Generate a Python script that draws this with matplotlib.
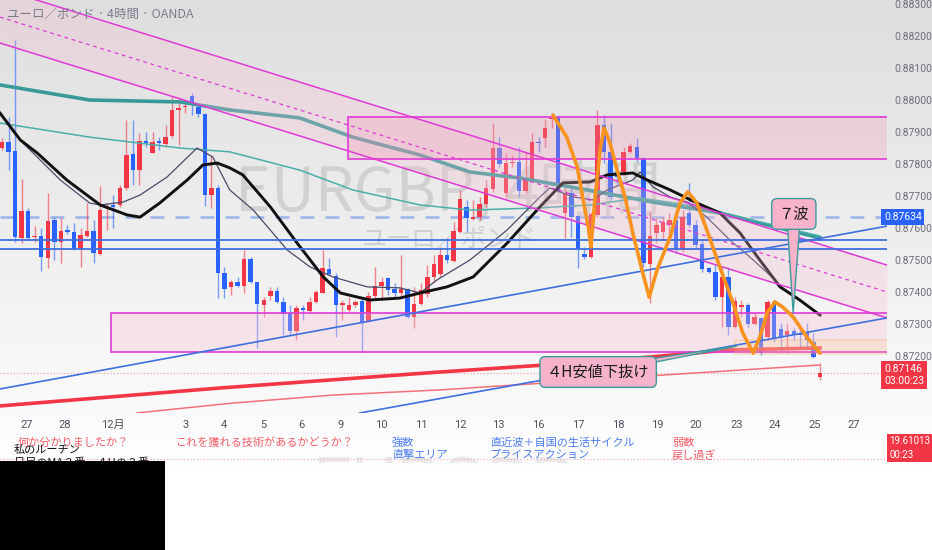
import matplotlib
matplotlib.use("Agg")

import numpy as np
import matplotlib.pyplot as plt
from matplotlib.patches import Rectangle, Polygon

plt.rcParams['font.family'] = ['Roboto', 'Noto Sans CJK JP', 'DejaVu Sans']
JP = ['Noto Sans CJK JP', 'DejaVu Sans']

# --- 4H candles, EUR/GBP ---
opens = [
    0.87850, 0.87869, 0.87841, 0.87569, 0.87653, 0.87572, 0.87575, 0.87506, 0.87625, 0.87556,
    0.87594, 0.87588, 0.87534, 0.87575, 0.87591, 0.87519, 0.87663, 0.87672, 0.87672, 0.87725,
    0.87831, 0.87781, 0.87872, 0.87834, 0.87872, 0.87863, 0.87888, 0.87969, 0.87978, 0.88012,
    0.87978, 0.87956, 0.87703, 0.87725, 0.87459, 0.87416, 0.87431, 0.87419, 0.87503, 0.87431,
    0.87359, 0.87388, 0.87403, 0.87369, 0.87334, 0.87278, 0.87350, 0.87341, 0.87369, 0.87397,
    0.87472, 0.87450, 0.87359, 0.87344, 0.87359, 0.87372, 0.87309, 0.87388, 0.87419, 0.87444,
    0.87409, 0.87397, 0.87409, 0.87322, 0.87363, 0.87394, 0.87447, 0.87456, 0.87516, 0.87497,
    0.87588, 0.87666, 0.87628, 0.87634, 0.87675, 0.87722, 0.87850, 0.87709, 0.87803, 0.87806,
    0.87716, 0.87753, 0.87869, 0.87881, 0.87941, 0.87944, 0.87647, 0.87709, 0.87638, 0.87519,
    0.87509, 0.87641, 0.87922, 0.87838, 0.87775, 0.87775, 0.87838, 0.87853, 0.87819, 0.87488,
    0.87584, 0.87588, 0.87609, 0.87625, 0.87531, 0.87647, 0.87609, 0.87550, 0.87475, 0.87463,
    0.87384, 0.87447, 0.87291, 0.87353, 0.87359, 0.87300, 0.87319, 0.87259, 0.87369, 0.87284,
    0.87266, 0.87278, 0.87272, 0.87272, 0.87244, 0.87134]
highs = [
    0.87881, 0.87947, 0.88188, 0.87753, 0.87663, 0.87606, 0.87600, 0.87709, 0.87634, 0.87631,
    0.87609, 0.87616, 0.87600, 0.87678, 0.87625, 0.87731, 0.87678, 0.87703, 0.87734, 0.87938,
    0.87938, 0.87897, 0.87900, 0.87900, 0.87884, 0.87922, 0.88009, 0.88009, 0.88000, 0.88022,
    0.87984, 0.87959, 0.87828, 0.87734, 0.87478, 0.87438, 0.87447, 0.87531, 0.87509, 0.87431,
    0.87384, 0.87416, 0.87416, 0.87384, 0.87359, 0.87359, 0.87359, 0.87384, 0.87406, 0.87531,
    0.87506, 0.87459, 0.87375, 0.87384, 0.87375, 0.87378, 0.87400, 0.87478, 0.87447, 0.87447,
    0.87428, 0.87516, 0.87413, 0.87416, 0.87428, 0.87484, 0.87516, 0.87541, 0.87569, 0.87619,
    0.87719, 0.87688, 0.87688, 0.87697, 0.87750, 0.87928, 0.87884, 0.87834, 0.87828, 0.87853,
    0.87838, 0.87897, 0.87884, 0.87938, 0.87953, 0.87953, 0.87728, 0.87725, 0.87641, 0.87541,
    0.87650, 0.87969, 0.87953, 0.87928, 0.87797, 0.87853, 0.87866, 0.87881, 0.87822, 0.87650,
    0.87631, 0.87634, 0.87647, 0.87656, 0.87656, 0.87741, 0.87625, 0.87563, 0.87478, 0.87484,
    0.87478, 0.87478, 0.87384, 0.87375, 0.87366, 0.87334, 0.87322, 0.87375, 0.87375, 0.87303,
    0.87303, 0.87288, 0.87291, 0.87303, 0.87272, 0.87178]
lows = [
    0.87844, 0.87781, 0.87556, 0.87553, 0.87563, 0.87556, 0.87466, 0.87475, 0.87500, 0.87491,
    0.87581, 0.87531, 0.87478, 0.87572, 0.87491, 0.87516, 0.87594, 0.87600, 0.87666, 0.87719,
    0.87734, 0.87734, 0.87853, 0.87834, 0.87844, 0.87853, 0.87881, 0.87859, 0.87959, 0.87953,
    0.87947, 0.87669, 0.87663, 0.87381, 0.87381, 0.87391, 0.87416, 0.87397, 0.87428, 0.87225,
    0.87322, 0.87375, 0.87366, 0.87266, 0.87266, 0.87250, 0.87313, 0.87334, 0.87366, 0.87397,
    0.87453, 0.87259, 0.87313, 0.87334, 0.87353, 0.87213, 0.87306, 0.87375, 0.87375, 0.87391,
    0.87384, 0.87384, 0.87319, 0.87288, 0.87359, 0.87384, 0.87431, 0.87447, 0.87491, 0.87494,
    0.87584, 0.87588, 0.87625, 0.87625, 0.87666, 0.87713, 0.87791, 0.87697, 0.87791, 0.87697,
    0.87709, 0.87744, 0.87838, 0.87853, 0.87913, 0.87713, 0.87569, 0.87572, 0.87475, 0.87503,
    0.87506, 0.87634, 0.87803, 0.87688, 0.87734, 0.87766, 0.87834, 0.87806, 0.87478, 0.87366,
    0.87553, 0.87563, 0.87584, 0.87522, 0.87525, 0.87603, 0.87538, 0.87463, 0.87459, 0.87375,
    0.87291, 0.87266, 0.87288, 0.87322, 0.87291, 0.87297, 0.87203, 0.87250, 0.87244, 0.87209,
    0.87209, 0.87250, 0.87228, 0.87228, 0.87194, 0.87125]
closes = [
    0.87869, 0.87838, 0.87572, 0.87653, 0.87569, 0.87575, 0.87509, 0.87622, 0.87556, 0.87591,
    0.87588, 0.87534, 0.87578, 0.87591, 0.87522, 0.87656, 0.87666, 0.87666, 0.87725, 0.87828,
    0.87781, 0.87872, 0.87866, 0.87869, 0.87866, 0.87884, 0.87969, 0.87975, 0.87981, 0.87984,
    0.87956, 0.87703, 0.87725, 0.87459, 0.87409, 0.87431, 0.87419, 0.87503, 0.87431, 0.87363,
    0.87375, 0.87403, 0.87369, 0.87331, 0.87278, 0.87350, 0.87344, 0.87369, 0.87400, 0.87475,
    0.87456, 0.87359, 0.87366, 0.87359, 0.87369, 0.87306, 0.87388, 0.87419, 0.87431, 0.87406,
    0.87397, 0.87409, 0.87322, 0.87363, 0.87406, 0.87447, 0.87488, 0.87516, 0.87500, 0.87591,
    0.87691, 0.87631, 0.87634, 0.87675, 0.87725, 0.87850, 0.87800, 0.87803, 0.87806, 0.87716,
    0.87753, 0.87869, 0.87866, 0.87913, 0.87944, 0.87716, 0.87709, 0.87634, 0.87534, 0.87509,
    0.87644, 0.87922, 0.87838, 0.87697, 0.87759, 0.87838, 0.87856, 0.87819, 0.87491, 0.87575,
    0.87609, 0.87619, 0.87625, 0.87531, 0.87634, 0.87609, 0.87547, 0.87472, 0.87463, 0.87384,
    0.87447, 0.87291, 0.87372, 0.87359, 0.87300, 0.87322, 0.87209, 0.87369, 0.87256, 0.87259,
    0.87278, 0.87266, 0.87266, 0.87250, 0.87197, 0.87146]

day_ticks = [3.7, 9.6, 17.0, 28.0, 33.9, 39.9, 45.8, 51.8, 57.9, 64.0, 70.0,
             75.9, 82.0, 88.0, 94.1, 100.2, 106.0, 112.2, 118.1, 124.2, 130.2]
day_labels = ['27', '28', '12月', '3', '4', '5', '6', '9', '10', '11', '12',
              '13', '16', '17', '18', '19', '20', '23', '24', '25', '27']
price_ticks = [0.872, 0.873, 0.874, 0.875, 0.876, 0.877, 0.878, 0.879, 0.880, 0.881, 0.882, 0.883]

# moving averages
black_ma_x = [-0.3, 2.8, 5.4, 9.9, 15.0, 19.1, 21.1, 24.1, 28.3, 30.7, 32.9, 34.8, 36.8, 41.0,
              45.1, 49.1, 51.7, 56.2, 60.8, 63.9, 68.0, 72.0, 77.2, 82.2, 85.7, 89.9, 92.5,
              96.4, 98.6, 102.1, 106.2, 109.7, 112.8, 115.8, 118.9, 121.9, 125.0]
black_ma_y = [0.87959, 0.87875, 0.87834, 0.87750, 0.87672, 0.87641, 0.87634, 0.87678, 0.87750,
              0.87797, 0.87803, 0.87788, 0.87766, 0.87666, 0.87553, 0.87447, 0.87397, 0.87375,
              0.87381, 0.87397, 0.87416, 0.87447, 0.87553, 0.87666, 0.87741, 0.87744, 0.87766,
              0.87772, 0.87750, 0.87719, 0.87678, 0.87647, 0.87584, 0.87500, 0.87416, 0.87375,
              0.87328]
thin_ma_x = [3.2, 8.9, 13.4, 15.0, 18.5, 21.1, 25.2, 29.8, 32.2, 34.8, 38.4, 43.6, 47.1, 50.6,
             55.8, 60.8, 63.9, 66.5, 71.5, 77.2, 82.2, 83.7, 87.3, 90.3, 92.5, 96.4, 97.5,
             99.5, 102.1, 104.7, 107.7, 111.2, 114.8, 118.1]
thin_ma_y = [0.87866, 0.87750, 0.87678, 0.87672, 0.87681, 0.87703, 0.87759, 0.87850, 0.87822,
             0.87719, 0.87656, 0.87531, 0.87478, 0.87447, 0.87416, 0.87413, 0.87397, 0.87438,
             0.87500, 0.87594, 0.87697, 0.87725, 0.87697, 0.87688, 0.87719, 0.87750, 0.87775,
             0.87728, 0.87697, 0.87681, 0.87634, 0.87563, 0.87500, 0.87438]
teal_ma_x = [-0.3, 13.4, 27.2, 34.8, 45.5, 53.6, 63.9, 71.5, 79.2, 89.4, 99.5, 109.7, 120.0, 125.0]
teal_ma_y = [0.88047, 0.88000, 0.87994, 0.87969, 0.87944, 0.87884, 0.87828, 0.87775, 0.87756,
             0.87719, 0.87681, 0.87647, 0.87594, 0.87569]
teal2_ma_x = [-0.3, 13.4, 27.2, 34.8, 45.5, 53.6, 63.9, 71.5, 82.2, 89.9, 97.5, 106.7, 115.8, 125.0]
teal2_ma_y = [0.87928, 0.87884, 0.87850, 0.87838, 0.87781, 0.87719, 0.87672, 0.87656, 0.87663,
              0.87672, 0.87694, 0.87666, 0.87619, 0.87575]
red_ma_x = [-0.3, 33.3, 66.9, 83.0, 99.0, 111.2, 125.0]
red_ma_y = [0.87044, 0.87100, 0.87150, 0.87172, 0.87197, 0.87219, 0.87225]
red2_ma_x = [20.6, 35.3, 50.6, 66.9, 83.3, 103.6, 125.0]
red2_ma_y = [0.87022, 0.87053, 0.87078, 0.87094, 0.87116, 0.87144, 0.87172]

# drawings
wave_x = [84.2, 86.3, 87.9, 88.8, 89.6, 90.0, 90.6, 91.4, 92.0, 92.9, 94.0, 95.2, 96.4, 97.8,
          98.9, 100.1, 102.1, 103.6, 104.8, 106.2, 107.7, 109.7, 111.7, 113.2, 114.8, 115.8,
          116.9, 118.1, 119.3, 120.9, 123.0, 125.0]
wave_y = [0.87953, 0.87884, 0.87791, 0.87688, 0.87603, 0.87541, 0.87688, 0.87844, 0.87913,
          0.87866, 0.87781, 0.87697, 0.87584, 0.87469, 0.87384, 0.87469, 0.87572, 0.87678,
          0.87713, 0.87678, 0.87594, 0.87478, 0.87366, 0.87272, 0.87209, 0.87259, 0.87334,
          0.87369, 0.87353, 0.87322, 0.87259, 0.87209]

RED = '#f23645'
BLUE = '#2962ff'
MAG = '#e03ad6'

X0, X1 = -0.306, 135.24
Y0, Y1 = 0.870219, 0.883125

fig = plt.figure(figsize=(9.32, 5.5), dpi=100)

# background gradient
bg = fig.add_axes([0, 0, 1, 1], zorder=-10)
vals = np.interp(np.arange(550), [0, 420, 470, 550], [222, 251, 255, 255]) / 255
grad = np.repeat(vals[:, None, None], 3, axis=2)
bg.imshow(grad, aspect='auto', extent=[0, 1, 0, 1])
bg.axis('off')

ax = fig.add_axes([0, 1 - 413 / 550, 887 / 932, 413 / 550])
ax.set_facecolor('none')
ax.set_xlim(X0, X1)
ax.set_ylim(Y0, Y1)
for s in ax.spines.values():
    s.set_visible(False)

# watermark
ax.text(68.2, 0.87709, 'EURGBP, 4時間', family=JP, fontsize=44, color='#bdbdbd',
        alpha=0.55, ha='center', va='center', zorder=1)
ax.text(68.2, 0.87563, 'ユーロ／ポンド', family=JP, fontsize=18, color='#bdbdbd',
        alpha=0.6, ha='center', va='center', zorder=1)

# candles
o = np.array(opens); h = np.array(highs); l = np.array(lows); c = np.array(closes)
x = np.arange(len(o))
cols = np.where(c >= o, RED, BLUE)
ax.vlines(x, l, h, colors=cols, lw=1, alpha=0.6, zorder=3)
body = np.maximum(np.abs(c - o), 0.00002)
ax.bar(x, body, bottom=np.minimum(o, c), width=0.68, color=cols, zorder=4)

# moving averages
ax.plot(teal_ma_x, teal_ma_y, color='#3a9a9a', lw=2.6, zorder=5)
ax.plot(teal2_ma_x, teal2_ma_y, color='#4aaeaa', lw=1.1, zorder=5)
ax.plot(red_ma_x, red_ma_y, color=RED, lw=2.6, zorder=5)
ax.plot(red2_ma_x, red2_ma_y, color='#f3707a', lw=1.1, zorder=5)
ax.plot(thin_ma_x, thin_ma_y, color='#4a4a68', lw=0.9, zorder=5)
ax.plot(black_ma_x, black_ma_y, color='#111111', lw=2.1, zorder=5)

# channel
xs = [X0, X1]
lineA = [0.88348, 0.87484]
lineB = [0.88259, 0.87400]
lineC = [0.88178, 0.87319]
ax.fill_between(xs, lineC, lineA, color='#f8bbd0', alpha=0.28, lw=0, zorder=6)
ax.plot(xs, lineA, color=MAG, lw=1.1, zorder=7)
ax.plot(xs, lineB, color=MAG, lw=0.9, ls=(0, (3, 3)), zorder=7)
ax.plot(xs, lineC, color=MAG, lw=1.1, zorder=7)

# zones
ax.add_patch(Rectangle((52.9, 0.87816), X1 - 52.9, 0.87947 - 0.87816,
                       facecolor='#f48fb1', alpha=0.25, lw=0, zorder=6))
ax.add_patch(Rectangle((52.9, 0.87816), X1 - 52.9 + 1, 0.87947 - 0.87816,
                       facecolor='none', edgecolor=MAG, lw=1.2, zorder=7))
ax.add_patch(Rectangle((16.7, 0.87213), X1 - 16.7, 0.87334 - 0.87213,
                       facecolor='#f8bbd0', alpha=0.3, lw=0, zorder=6))
ax.add_patch(Rectangle((16.7, 0.87213), X1 - 16.7 + 1, 0.87334 - 0.87213,
                       facecolor='none', edgecolor=MAG, lw=1.2, zorder=7))
ax.add_patch(Rectangle((112.0, 0.87206), X1 - 112.0 + 1, 0.87250 - 0.87206,
                       facecolor='#ffcc80', alpha=0.2, edgecolor='#ff9a3c', lw=1.3, zorder=7))

# horizontal and trend lines
ax.axhline(0.87563, color='#3f6fe0', lw=1.3, zorder=7)
ax.axhline(0.87534, color='#3f6fe0', lw=1.3, zorder=7)
ax.axhline(0.87634, color='#a3b9ea', lw=2, ls=(0, (5, 4)), zorder=2)
ax.axhline(0.87146, color=RED, lw=0.8, ls=(0, (1, 2)), alpha=0.5, zorder=2)
ax.plot([X0, X1], [0.87097, 0.87606], color='#3f6fe0', lw=1.2, zorder=7)
ax.plot([54.7, X1], [0.87022, 0.87319], color='#3f6fe0', lw=1.2, zorder=7)

# hand drawn wave
ax.plot(wave_x, wave_y, color='#f7931e', lw=2.6, solid_capstyle='round',
        solid_joinstyle='round', zorder=9)

# callouts
ax.add_patch(Polygon([(120.0, 0.87619), (121.95, 0.87619), (120.9, 0.87334)],
                     closed=True, facecolor='#f7b3cb', edgecolor='#3d9b9b', lw=1, zorder=10))
ax.text(121.0, 0.87644, '７波', family=JP, fontsize=11, ha='center', va='center', zorder=11,
        color='#1a1a1a',
        bbox=dict(boxstyle='round,pad=0.45,rounding_size=0.35', facecolor='#f7b3cb',
                  edgecolor='#3d9b9b', lw=1))
ax.add_patch(Polygon([(93.7, 0.87175), (98.3, 0.87175), (112.3, 0.87231)],
                     closed=True, facecolor='#f7b3cb', edgecolor='#3d9b9b', lw=1, zorder=10))
ax.text(91.1, 0.87150, '４H安値下抜け', family=JP, fontsize=11, ha='center', va='center',
        zorder=11, color='#1a1a1a',
        bbox=dict(boxstyle='round,pad=0.45,rounding_size=0.35', facecolor='#f7b3cb',
                  edgecolor='#3d9b9b', lw=1))

# axes
ax.yaxis.tick_right()
ax.set_yticks(price_ticks)
ax.set_yticklabels([f'{p:.5f}' for p in price_ticks])
ax.tick_params(axis='y', length=0, pad=5, labelsize=7.5, labelcolor='#6b6e7a')
ax.set_xticks(day_ticks)
ax.set_xticklabels(day_labels)
ax.tick_params(axis='x', length=0, pad=5, labelsize=8, labelcolor='#50535e')

# title
fig.text(7 / 932, 1 - 14 / 550, 'ユーロ／ポンド · 4時間 · OANDA', family=JP, fontsize=9,
         color='#7b7e8c', va='center')

# price tags
fig.text(884 / 932, 1 - 217 / 550, '0.87634', fontsize=7.5, color='white', va='center',
         bbox=dict(boxstyle='square,pad=0.25', facecolor=BLUE, edgecolor='none'))
fig.text(884 / 932, 1 - 375 / 550, '0.87146\n03:00:23', fontsize=7.5, color='white',
         va='center', linespacing=1.3,
         bbox=dict(boxstyle='square,pad=0.25', facecolor=RED, edgecolor='none'))
fig.text(889 / 932, 1 - 448 / 550, '19.61013\n00:23', fontsize=7, color='white',
         va='center', linespacing=1.5,
         bbox=dict(boxstyle='square,pad=0.25', facecolor=RED, edgecolor='none'))

# lower pane
pane = fig.add_axes([0, 1 - 463 / 550, 887 / 932, 33 / 550])
pane.axis('off')
pane.set_xlim(0, 1)
pane.set_ylim(0, 1)
wm = pane.text(0.5, -0.75, 'EURGBP', fontsize=50, color='#cccccc', alpha=0.4,
               ha='center', va='center', zorder=0)
wm.set_clip_on(True)
fig.add_artist(plt.Line2D([0, 887 / 932], [1 - 459 / 550] * 2, color='#f7a0a8', lw=0.8,
                          ls=(0, (1, 2))))

notes = [
    (18, 443, '何か分かりましたか？', '#f25c66'),
    (14, 450, '私のルーチン', '#111111'),
    (14, 463, '日足のMA２番　４Hの２番', '#111111'),
    (175, 443, 'これを獲れる技術があるかどうか？', '#f25c66'),
    (392, 443, '強数', '#4d7cf0'),
    (392, 455, '直撃エリア', '#4d7cf0'),
    (490, 443, '直近波＋自国の生活サイクル', '#4d7cf0'),
    (490, 455, 'プライスアクション', '#4d7cf0'),
    (672, 443, '弱数', '#f25c66'),
    (672, 455, '戻し過ぎ', '#f25c66'),
]
for px, py, t, col in notes:
    fig.text(px / 932, 1 - py / 550, t, family=JP, fontsize=8, color=col, va='center')

fig.add_artist(Rectangle((0, 0), 165 / 932, 89 / 550, transform=fig.transFigure,
                         facecolor='black', edgecolor='none', zorder=20))

fig.savefig('out.png', dpi=100)
